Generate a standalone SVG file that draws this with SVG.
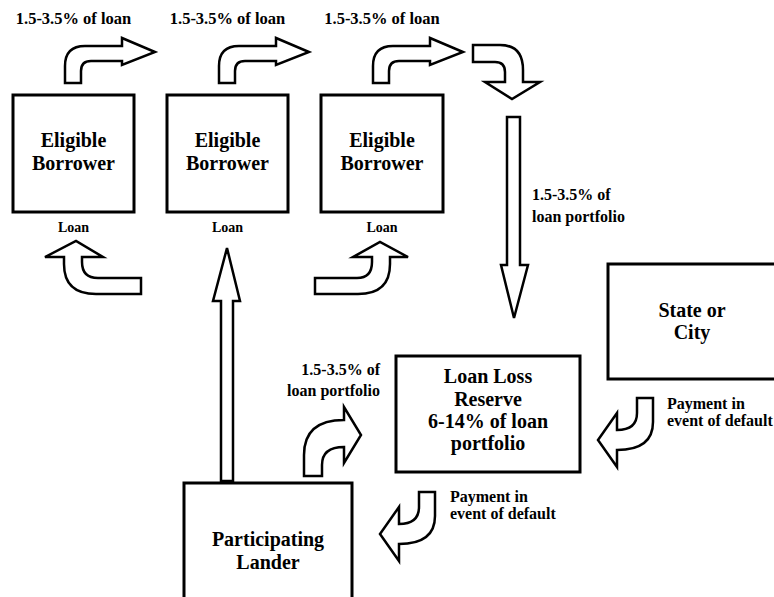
<svg xmlns="http://www.w3.org/2000/svg" width="774" height="597" viewBox="0 0 774 597" font-family="Liberation Serif, Times New Roman, serif">
<style>
.box{fill:#fff;stroke:#000;stroke-width:3}
.arr{fill:#fff;stroke:#000;stroke-width:2.5;stroke-linejoin:miter}
.t{font-family:'Liberation Serif','Times New Roman',serif;font-weight:bold;fill:#000}
.big{font-size:20px;text-anchor:middle}
.lbl{font-size:16px}
.top{font-size:16.5px;text-anchor:middle}
.sm{font-size:14px;text-anchor:middle}
.end{text-anchor:end}
</style>
<defs>
<path id="topArrow" d="M65,83 L65,66 Q65,46 85,46 L122,46 L122,38 L155,52 L122,65 L122,61 L91,61 Q81,61 81,71 L81,83 Z"/>
<path id="payArrow" d="M637,398 L653,398 L653,422 Q653,450 617,450 L617,467 L598,440 L617,413 L617,430 Q637,430 637,413 Z"/>
</defs>
<rect width="774" height="597" fill="#fff"/>
<g id="borrower1">
<rect class="box" x="13" y="95" width="121" height="117"/>
<text class="t big" x="73.5" y="147">Eligible</text>
<text class="t big" x="73.5" y="170">Borrower</text>
</g>
<g id="borrower2">
<rect class="box" x="167" y="95" width="121" height="117"/>
<text class="t big" x="227.5" y="147">Eligible</text>
<text class="t big" x="227.5" y="170">Borrower</text>
</g>
<g id="borrower3">
<rect class="box" x="321" y="95" width="122" height="117"/>
<text class="t big" x="382" y="147">Eligible</text>
<text class="t big" x="382" y="170">Borrower</text>
</g>
<g id="reserve">
<rect class="box" x="396" y="356" width="184" height="116"/>
<text class="t big" x="488" y="383">Loan Loss</text>
<text class="t big" x="488" y="406">Reserve</text>
<text class="t big" x="488" y="428">6-14% of loan</text>
<text class="t big" x="488" y="450">portfolio</text>
</g>
<g id="state">
<rect class="box" x="608" y="264" width="168" height="115"/>
<text class="t big" x="692" y="317">State or</text>
<text class="t big" x="692" y="339">City</text>
</g>
<g id="lender">
<rect class="box" x="184" y="483" width="168" height="120"/>
<text class="t big" x="268" y="546">Participating</text>
<text class="t big" x="268" y="569">Lander</text>
</g>
<g id="connectors">
<use href="#topArrow" class="arr"/>
<use href="#topArrow" class="arr" transform="translate(154,0)"/>
<use href="#topArrow" class="arr" transform="translate(308,0)"/>
<path class="arr" d="M473,45 L500,45 Q523,45 523,70 L523,82 L540,82 L512,99 L485,82 L505,82 L505,72 Q505,62 495,62 L473,62 Z"/>
<path class="arr" d="M507,117 L520,117 L520,265 L528,265 L514,318 L501,265 L507,265 Z"/>
<path class="arr" d="M141,278 L98,278 Q82,278 82,262 L82,257 L103,257 L76,241 L45,257 L64,257 L64,264 Q64,294 96,294 L141,294 Z"/>
<path class="arr" d="M221,481 L221,301 L213,301 L227,248 L240,301 L233,301 L233,481 Z"/>
<path class="arr" d="M315,278 L357,278 Q372,278 372,262 L372,257 L353,257 L380,242 L408,257 L390,257 L390,264 Q390,294 358,294 L315,294 Z"/>
<path class="arr" d="M304,476 L304,455 Q304,420 344,420 L344,407 L361,435 L344,463 L344,447 Q322,447 322,465 L322,476 Z"/>
<use href="#payArrow" class="arr"/>
<use href="#payArrow" class="arr" transform="translate(-218,94)"/>
<text class="t top" x="73.5" y="24">1.5-3.5% of loan</text>
<text class="t top" x="227.5" y="24">1.5-3.5% of loan</text>
<text class="t top" x="382" y="24">1.5-3.5% of loan</text>
<text class="t sm" x="73.5" y="232">Loan</text>
<text class="t sm" x="227.5" y="232">Loan</text>
<text class="t sm" x="382" y="232">Loan</text>
<text class="t lbl" x="532" y="200">1.5-3.5% of</text>
<text class="t lbl" x="532" y="222">loan portfolio</text>
<text class="t lbl end" x="380" y="375">1.5-3.5% of</text>
<text class="t lbl end" x="380" y="396">loan portfolio</text>
<text class="t lbl" x="667" y="409">Payment in</text>
<text class="t lbl" x="667" y="426">event of default</text>
<text class="t lbl" x="450" y="502">Payment in</text>
<text class="t lbl" x="450" y="519">event of default</text>
</g>
</svg>
